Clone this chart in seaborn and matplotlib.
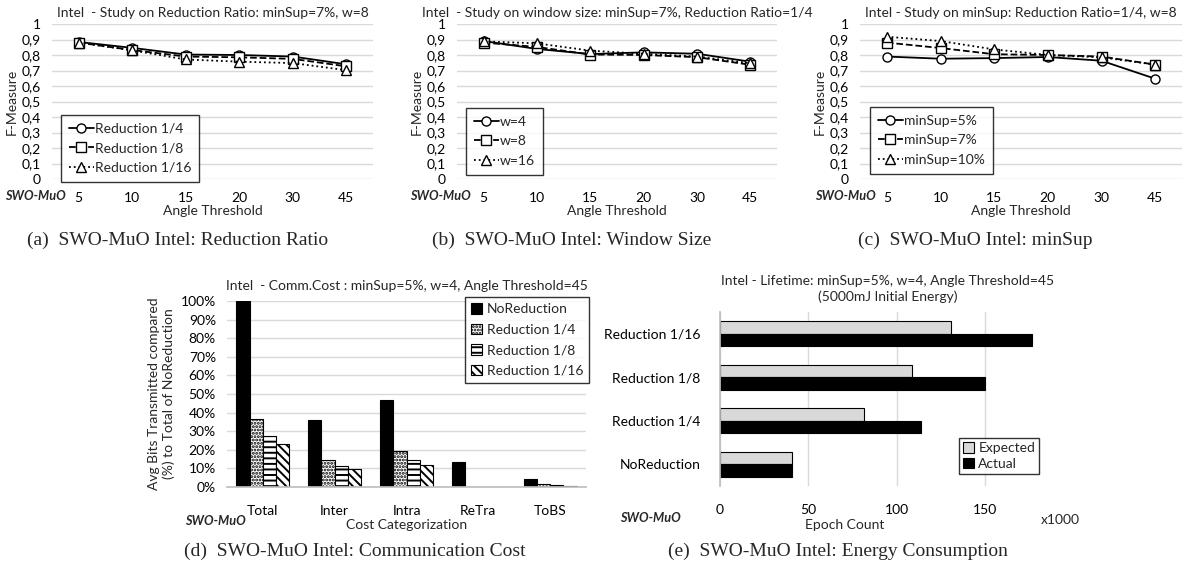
import numpy as np
import pandas as pd
import matplotlib
matplotlib.use("Agg")
import matplotlib.pyplot as plt
import seaborn as sns

# ---------------- data ----------------
angle_thresholds = ['5', '10', '15', '20', '30', '45']
fmeasure_ticks = [0, 0.1, 0.2, 0.3, 0.4, 0.5, 0.6, 0.7, 0.8, 0.9, 1.0]
fmeasure_ticklabels = ['0', '0,1', '0,2', '0,3', '0,4', '0,5', '0,6', '0,7', '0,8', '0,9', '1']

# (a) reduction ratio
ratio_labels = ['Reduction 1/4', 'Reduction 1/8', 'Reduction 1/16']
red_1_4 = [0.884, 0.846, 0.803, 0.800, 0.790, 0.740]
red_1_8 = [0.880, 0.832, 0.790, 0.785, 0.775, 0.727]
red_1_16 = [0.880, 0.830, 0.771, 0.757, 0.748, 0.702]

# (b) window size
window_labels = ['w=4', 'w=8', 'w=16']
w_4 = [0.890, 0.839, 0.806, 0.817, 0.808, 0.757]
w_8 = [0.880, 0.852, 0.803, 0.800, 0.786, 0.737]
w_16 = [0.888, 0.875, 0.828, 0.808, 0.790, 0.747]

# (c) minSup
minsup_labels = ['minSup=5%', 'minSup=7%', 'minSup=10%']
ms_5 = [0.790, 0.776, 0.780, 0.787, 0.763, 0.647]
ms_7 = [0.880, 0.845, 0.805, 0.800, 0.790, 0.738]
ms_10 = [0.918, 0.890, 0.836, 0.800, 0.785, 0.738]

# (d) communication cost
cost_categories = ['Total', 'Inter', 'Intra', 'ReTra', 'ToBS']
cost_series = ['NoReduction', 'Reduction 1/4', 'Reduction 1/8', 'Reduction 1/16']
cost_noreduction = [100.0, 35.9, 47.0, 13.5, 4.5]
cost_red_1_4 = [36.3, 14.7, 19.2, 0.0, 1.8]
cost_red_1_8 = [27.6, 11.1, 14.4, 0.0, 1.3]
cost_red_1_16 = [23.3, 9.7, 12.0, 0.0, 0.7]
pct_ticks = [0, 10, 20, 30, 40, 50, 60, 70, 80, 90, 100]
pct_ticklabels = ['0%', '10%', '20%', '30%', '40%', '50%', '60%', '70%', '80%', '90%', '100%']

# (e) lifetime
life_categories = ['Reduction 1/16', 'Reduction 1/8', 'Reduction 1/4', 'NoReduction']
life_series = ['Expected', 'Actual']
life_expected = [130.7, 108.7, 81.5, 40.8]
life_actual = [176.6, 150.0, 113.6, 40.8]
epoch_ticks = [0, 50, 100, 150]

# ---------------- style ----------------
sns.set_theme(style="white")
plt.rcParams['font.family'] = ['Lato', 'DejaVu Sans']
plt.rcParams['hatch.linewidth'] = 1.4
FS = 10
GRID = '#d9d9d9'
W, H = 1184, 572
fig = plt.figure(figsize=(W / 100, H / 100), dpi=100)
fig.patch.set_facecolor('white')


def px_axes(left, top, right, bottom):
    return fig.add_axes([left / W, 1 - bottom / H, (right - left) / W, (bottom - top) / H])


def swo(x, y):
    fig.text(x / W, 1 - y / H, 'SWO-MuO', fontsize=9.2, fontweight='bold',
             fontstyle='italic', ha='left', va='center')


def caption(x, y, s):
    fig.text(x / W, 1 - y / H, s, fontsize=14, family='Liberation Serif',
             ha='center', va='center')


def clean(ax):
    for s in ax.spines.values():
        s.set_visible(False)
    ax.tick_params(length=0, labelsize=FS, colors='black')


def line_panel(box, title, series, labels, legend_box):
    left, top, right, bottom = box
    ax = px_axes(left, top, right, bottom)
    df = pd.DataFrame({
        'Angle Threshold': angle_thresholds * 3,
        'F': series[0] + series[1] + series[2],
        'Series': [labels[0]] * 6 + [labels[1]] * 6 + [labels[2]] * 6,
    })
    sns.pointplot(data=df, x='Angle Threshold', y='F', hue='Series', hue_order=labels,
                  order=angle_thresholds, palette=['black'] * 3, errorbar=None,
                  markers=['o', 's', '^'], linestyles=['-', '--', ':'], legend=False, ax=ax)
    styles = ['-', '--', ':']
    mk = ['o', 's', '^']
    for ln, ls, m in zip(ax.lines[:3], styles, mk):
        ln.set_linestyle(ls)
        ln.set_linewidth(1.3)
        ln.set_marker(m)
        ln.set_markersize(6.5)
        ln.set_markerfacecolor('white')
        ln.set_markeredgecolor('black')
        ln.set_markeredgewidth(1.0)
        ln.set_color('black')
    ax.set_ylim(0, 1)
    ax.set_xlim(-0.5, 5.5)
    ax.set_yticks(fmeasure_ticks)
    ax.set_yticklabels(fmeasure_ticklabels)
    ax.grid(axis='y', color=GRID, lw=1.0)
    ax.set_axisbelow(True)
    clean(ax)
    ax.tick_params(axis='x', pad=9)
    ax.tick_params(axis='y', pad=8)
    ax.set_xlabel('Angle Threshold', fontsize=FS)
    ax.xaxis.set_label_coords(0.5, -0.17)
    ax.set_ylabel('F-Measure', fontsize=FS, labelpad=3)
    ax.set_title(title, fontsize=FS, pad=5)
    lx0, ly0, lx1, ly1 = legend_box
    leg = ax.legend(ax.lines[:3], labels, fontsize=FS, frameon=True, fancybox=False,
                    loc='upper left',
                    bbox_to_anchor=((lx0 - left) / (right - left), 1 - (ly0 - top) / (bottom - top)),
                    borderaxespad=0, handlelength=1.8, handletextpad=0.1,
                    labelspacing=0.55, borderpad=0.55)
    leg.get_frame().set_edgecolor('black')
    leg.get_frame().set_linewidth(1.0)
    return ax


line_panel((52, 24, 373, 179), 'Intel  - Study on Reduction Ratio: minSup=7%, w=8',
           [red_1_4, red_1_8, red_1_16], ratio_labels, (61, 115, 189, 177))
line_panel((457, 24, 777, 179), 'Intel  - Study on window size: minSup=7%, Reduction Ratio=1/4',
           [w_4, w_8, w_16], window_labels, (466, 108, 547, 171))
line_panel((860, 24, 1182, 179), 'Intel - Study on minSup: Reduction Ratio=1/4, w=8',
           [ms_5, ms_7, ms_10], minsup_labels, (870, 107, 974, 172))
swo(5, 196)
swo(410, 196)
swo(815, 196)
caption(178, 240, '(a)  SWO-MuO Intel: Reduction Ratio')
caption(572, 240, '(b)  SWO-MuO Intel: Window Size')
caption(975, 240, '(c)  SWO-MuO Intel: minSup')

# ---------------- (d) ----------------
axd = px_axes(227, 301, 586, 487)
dfd = pd.DataFrame({
    'Category': cost_categories * 4,
    'Value': cost_noreduction + cost_red_1_4 + cost_red_1_8 + cost_red_1_16,
    'Series': sum([[s] * 5 for s in cost_series], []),
})
sns.barplot(data=dfd, x='Category', y='Value', hue='Series', hue_order=cost_series,
            order=cost_categories, errorbar=None, width=0.74, legend=False,
            palette=['black'] * 4, ax=axd)
hatches = [None, '.....', '---', '\\\\\\\\']
for cont, h in zip(axd.containers, hatches):
    for p in cont.patches:
        p.set_edgecolor('black')
        p.set_linewidth(0.8)
        if h is None:
            p.set_facecolor('black')
        else:
            p.set_facecolor('white')
            p.set_hatch(h)
axd.set_ylim(0, 100)
axd.set_yticks(pct_ticks)
axd.set_yticklabels(pct_ticklabels)
axd.grid(axis='y', color=GRID, lw=1.0)
axd.set_axisbelow(True)
clean(axd)
axd.spines['bottom'].set_visible(True)
axd.spines['bottom'].set_color('#bfbfbf')
axd.tick_params(axis='x', pad=13)
axd.tick_params(axis='y', pad=8)
axd.set_xlabel('Cost Categorization', fontsize=FS)
axd.xaxis.set_label_coords(0.5, -0.17)
axd.set_ylabel('Avg Bits Transmitted compared\n(%) to Total of NoReduction', fontsize=FS,
               labelpad=4, linespacing=1.2)
axd.set_title('Intel  - Comm.Cost : minSup=5%, w=4, Angle Threshold=45', fontsize=FS, pad=8)
legd = axd.legend(axd.containers, cost_series, fontsize=FS, frameon=True, fancybox=False,
                  loc='upper left', bbox_to_anchor=((465 - 227) / (586 - 227), 1 + 4 / 186),
                  borderaxespad=0, handlelength=0.8, handleheight=0.8, handletextpad=0.3,
                  labelspacing=0.6, borderpad=0.45)
legd.get_frame().set_edgecolor('black')
legd.get_frame().set_linewidth(1.0)
swo(185, 521)
caption(355, 551, '(d)  SWO-MuO Intel: Communication Cost')

# ---------------- (e) ----------------
axe = px_axes(720, 312, 1056, 486)
dfe = pd.DataFrame({
    'Category': life_categories * 2,
    'Epochs': life_expected + life_actual,
    'Series': [life_series[0]] * 4 + [life_series[1]] * 4,
})
sns.barplot(data=dfe, y='Category', x='Epochs', hue='Series', hue_order=life_series,
            order=life_categories, orient='h', errorbar=None, width=0.58, legend=False,
            palette=['#d9d9d9', 'black'], ax=axe)
for cont, fc in zip(axe.containers, ['#d9d9d9', 'black']):
    for p in cont.patches:
        p.set_facecolor(fc)
        p.set_edgecolor('black')
        p.set_linewidth(0.8)
axe.set_xlim(0, 190)
axe.set_xticks(epoch_ticks)
axe.grid(axis='x', color=GRID, lw=1.0)
axe.set_axisbelow(True)
clean(axe)
axe.spines['left'].set_visible(True)
axe.spines['left'].set_color('#bfbfbf')
axe.tick_params(axis='x', pad=13)
axe.tick_params(axis='y', pad=14)
axe.set_xlabel('Epoch Count', fontsize=FS)
axe.xaxis.set_label_coords((845 - 720) / 336, -0.19)
axe.set_ylabel('')
axe.set_title('Intel - Lifetime: minSup=5%, w=4, Angle Threshold=45\n(5000mJ Initial Energy)',
              fontsize=FS, pad=8, linespacing=1.3)
fig.text(1060 / W, 1 - 520 / H, 'x1000', fontsize=FS, ha='center', va='center')
lege = axe.legend(axe.containers, life_series, fontsize=FS, frameon=True, fancybox=False,
                  loc='upper left', bbox_to_anchor=((959 - 720) / 336, 1 - (438 - 312) / 174),
                  borderaxespad=0, handlelength=0.8, handleheight=0.8, handletextpad=0.3,
                  labelspacing=0.25, borderpad=0.3)
lege.get_frame().set_edgecolor('black')
lege.get_frame().set_linewidth(1.0)
swo(620, 518)
caption(838, 551, '(e)  SWO-MuO Intel: Energy Consumption')

fig.savefig('out.png', dpi=100, facecolor='white')
